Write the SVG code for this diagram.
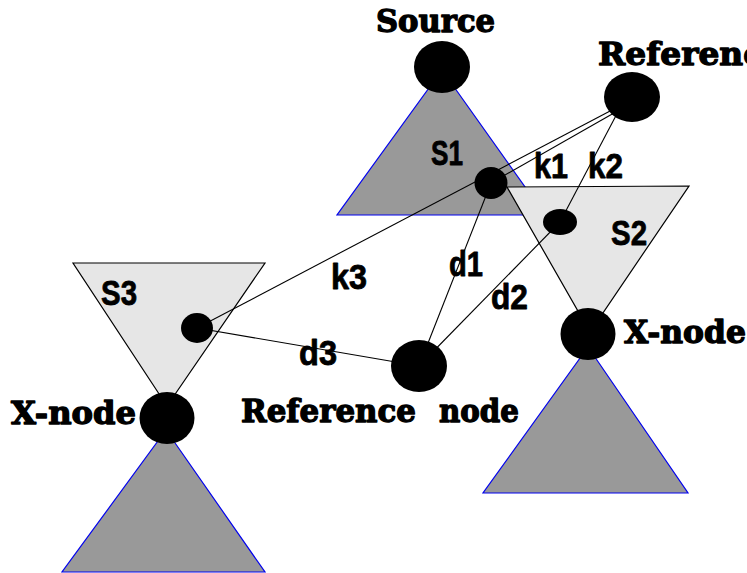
<svg xmlns="http://www.w3.org/2000/svg" width="747" height="573" viewBox="0 0 747 573">
  <style>
    .tree-dark { fill: #999999; stroke: #0000ee; stroke-width: 1.2; }
    .tree-light { fill: #e6e6e6; stroke: #000000; stroke-width: 1.2; }
    .node { fill: #000000; }
    .link { stroke: #000000; stroke-width: 1.1; fill: none; }
    .title { font-family: "DejaVu Serif", "Liberation Serif", serif; font-weight: bold; font-size: 31px; fill: #000000; stroke: #000000; stroke-width: 1.3; stroke-linejoin: round; }
    .tag { font-family: "Liberation Sans", Arial, sans-serif; font-weight: bold; font-size: 35px; fill: #000000; stroke: #000000; stroke-width: 0.8; stroke-linejoin: round; }
  </style>

  <rect width="747" height="573" fill="#ffffff"/>

  <!-- subtrees -->
  <g id="tree-s1">
    <polygon class="tree-dark" points="442,70 545,215 337,215"/>
  </g>
  <g id="tree-s2">
    <polygon class="tree-light" points="507,187 689,186 590,332"/>
  </g>
  <g id="tree-s3">
    <polygon class="tree-light" points="73,263 265,263 167,406"/>
  </g>
  <g id="tree-right-bottom">
    <polygon class="tree-dark" points="588,347 688,493 483,493"/>
  </g>
  <g id="tree-left-bottom">
    <polygon class="tree-dark" points="166,430 265,572 62,572"/>
  </g>

  <!-- connectors -->
  <g id="connectors">
    <line class="link" x1="197" y1="328" x2="612" y2="110"/>
    <line class="link" x1="491" y1="183" x2="614" y2="113"/>
    <line class="link" x1="560" y1="222" x2="620" y2="108"/>
    <line class="link" x1="491" y1="183" x2="419" y2="366"/>
    <line class="link" x1="560" y1="222" x2="419" y2="366"/>
    <line class="link" x1="197" y1="328" x2="419" y2="366"/>
  </g>

  <!-- nodes -->
  <g id="source">
    <ellipse class="node" cx="442" cy="67" rx="28" ry="26"/>
    <text class="title" x="376" y="32" textLength="119" lengthAdjust="spacingAndGlyphs">Source</text>
  </g>
  <g id="reference-top">
    <ellipse class="node" cx="632" cy="97" rx="28" ry="25"/>
    <text class="title" x="598" y="65" textLength="186" lengthAdjust="spacingAndGlyphs">Reference</text>
  </g>
  <g id="k1-node">
    <ellipse class="node" cx="491" cy="183" rx="16.5" ry="16"/>
  </g>
  <g id="s2-node">
    <ellipse class="node" cx="560" cy="222" rx="17" ry="13"/>
  </g>
  <g id="s3-node">
    <ellipse class="node" cx="197" cy="328" rx="16" ry="15"/>
  </g>
  <g id="reference-node">
    <ellipse class="node" cx="419" cy="366" rx="28" ry="26"/>
    <text class="title" x="241" y="422" textLength="175" lengthAdjust="spacingAndGlyphs">Reference</text>
    <text class="title" x="439" y="422" textLength="80" lengthAdjust="spacingAndGlyphs">node</text>
  </g>
  <g id="x-node-right">
    <ellipse class="node" cx="588" cy="334" rx="27.5" ry="26"/>
    <text class="title" x="624" y="343" textLength="122" lengthAdjust="spacingAndGlyphs">X-node</text>
  </g>
  <g id="x-node-left">
    <ellipse class="node" cx="167" cy="418" rx="27.5" ry="26"/>
    <text class="title" x="11" y="424" textLength="125" lengthAdjust="spacingAndGlyphs">X-node</text>
  </g>

  <!-- labels -->
  <g id="labels">
    <text class="tag" x="431" y="165" textLength="32" lengthAdjust="spacingAndGlyphs">S1</text>
    <text class="tag" x="611" y="245" textLength="36" lengthAdjust="spacingAndGlyphs">S2</text>
    <text class="tag" x="101" y="305" textLength="36" lengthAdjust="spacingAndGlyphs">S3</text>
    <text class="tag" x="534" y="178" textLength="34" lengthAdjust="spacingAndGlyphs">k1</text>
    <text class="tag" x="588" y="178" textLength="35" lengthAdjust="spacingAndGlyphs">k2</text>
    <text class="tag" x="331" y="289" textLength="36" lengthAdjust="spacingAndGlyphs">k3</text>
    <text class="tag" x="449" y="276" textLength="34" lengthAdjust="spacingAndGlyphs">d1</text>
    <text class="tag" x="491" y="309" textLength="37" lengthAdjust="spacingAndGlyphs">d2</text>
    <text class="tag" x="299" y="365" textLength="38" lengthAdjust="spacingAndGlyphs">d3</text>
  </g>
</svg>
